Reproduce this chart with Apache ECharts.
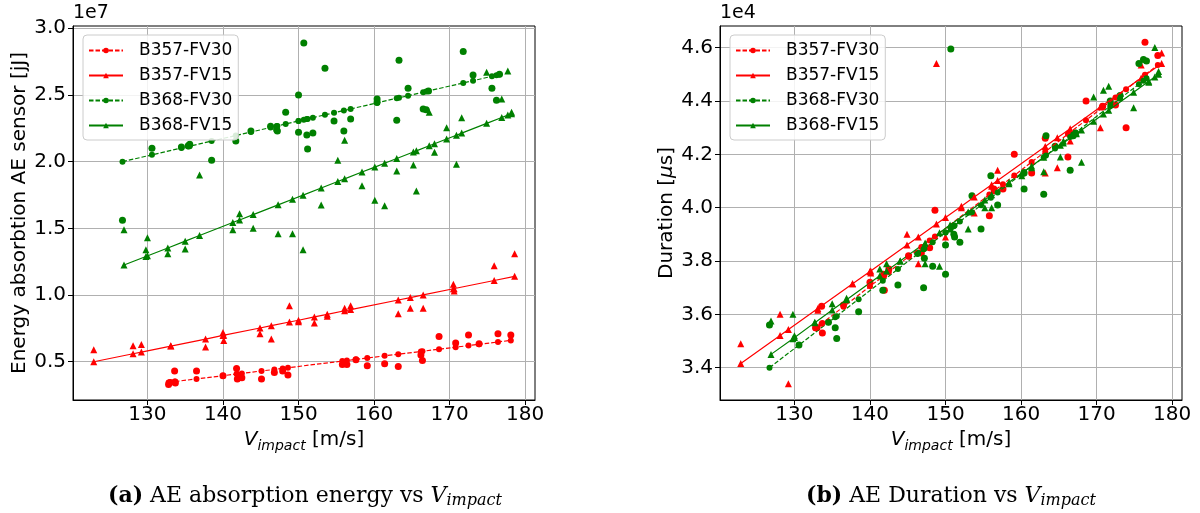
<!DOCTYPE html>
<html>
<head>
<meta charset="utf-8">
<script src="https://cdn.jsdelivr.net/npm/echarts@6/dist/echarts.min.js"></script>
<style>
  html, body { margin: 0; padding: 0; background: #ffffff; }
  #chart { width: 1200px; height: 513px; }
</style>
</head>
<body>
<div id="chart"></div>
<script>
// Impact speeds [m/s] of each specimen group, with the AE absorption energy (x1e7 jJ)
// and the AE duration (x1e4 µs) measured for every impact, plus the fitted trend value
// at each impact speed.
const xB357FV30 = [132.8, 133.0, 133.6, 133.7, 136.5, 140.0, 141.8, 141.9, 142.5, 145.1, 146.8, 147.9, 148.6, 155.8, 156.4, 157.6, 159.1, 161.4, 163.2, 166.2, 166.4, 168.6, 170.8, 172.5, 173.9, 176.4, 178.1];
const energyB357FV30 = [0.33, 0.345, 0.43, 0.34, 0.43, 0.395, 0.45, 0.37, 0.38, 0.37, 0.42, 0.43, 0.40, 0.48, 0.48, 0.515, 0.47, 0.485, 0.465, 0.55, 0.51, 0.69, 0.64, 0.70, 0.635, 0.71, 0.70];
const energyFitB357FV30 = [0.345, 0.346, 0.351, 0.351, 0.371, 0.395, 0.408, 0.408, 0.412, 0.431, 0.442, 0.450, 0.455, 0.505, 0.509, 0.517, 0.528, 0.544, 0.556, 0.577, 0.579, 0.594, 0.609, 0.621, 0.631, 0.648, 0.660];
const durationB357FV30 = [3.55, 3.55, 3.63, 3.53, 3.635, 3.72, 3.75, 3.69, 3.77, 3.82, 3.83, 3.85, 3.99, 3.97, 4.07, 4.07, 4.20, 4.13, 4.26, 4.19, 4.28, 4.40, 4.38, 4.385, 4.30, 4.62, 4.57];
const durationFitB357FV30 = [3.548, 3.552, 3.565, 3.568, 3.629, 3.705, 3.744, 3.746, 3.759, 3.816, 3.853, 3.877, 3.892, 4.049, 4.062, 4.088, 4.121, 4.171, 4.210, 4.276, 4.280, 4.328, 4.376, 4.413, 4.444, 4.498, 4.535];

const xB357FV15 = [122.9, 128.1, 129.2, 133.1, 137.7, 140.0, 140.1, 144.9, 146.4, 148.8, 150.0, 152.1, 153.8, 156.1, 156.9, 163.2, 164.8, 166.5, 170.5, 170.6, 175.9, 178.6];
const energyB357FV15 = [0.59, 0.62, 0.63, 0.62, 0.61, 0.72, 0.66, 0.71, 0.67, 0.92, 0.80, 0.79, 0.84, 0.90, 0.92, 0.86, 0.90, 0.90, 1.08, 1.03, 1.22, 1.31];
const energyFitB357FV15 = [0.500, 0.560, 0.572, 0.617, 0.670, 0.697, 0.698, 0.753, 0.770, 0.798, 0.811, 0.836, 0.855, 0.882, 0.891, 0.963, 0.981, 1.001, 1.047, 1.048, 1.109, 1.140];
const durationB357FV15 = [3.49, 3.60, 3.34, 3.615, 3.715, 3.76, 3.755, 3.90, 3.79, 4.54, 3.89, 4.00, 3.98, 4.08, 4.14, 4.13, 4.15, 4.25, 4.30, 4.38, 4.535, 4.58];
const durationFitB357FV15 = [3.416, 3.521, 3.543, 3.622, 3.715, 3.761, 3.763, 3.860, 3.890, 3.939, 3.963, 4.005, 4.040, 4.086, 4.102, 4.229, 4.262, 4.296, 4.377, 4.379, 4.486, 4.540];

const xB368FV30 = [126.7, 130.6, 134.5, 135.4, 135.6, 138.5, 141.7, 143.7, 146.3, 147.1, 147.2, 148.3, 150.0, 150.0, 150.7, 151.1, 151.2, 151.9, 153.5, 154.7, 156.0, 156.9, 160.4, 160.4, 163.0, 163.3, 164.5, 166.5, 166.9, 167.2, 171.8, 173.1, 175.6, 176.2, 176.6];
const energyB368FV30 = [1.56, 2.10, 2.11, 2.12, 2.13, 2.01, 2.155, 2.23, 2.265, 2.24, 2.23, 2.37, 2.50, 2.22, 2.89, 2.20, 2.095, 2.215, 2.70, 2.305, 2.23, 2.32, 2.47, 2.445, 2.31, 2.76, 2.55, 2.395, 2.39, 2.53, 2.825, 2.65, 2.55, 2.46, 2.655];
const energyFitB368FV30 = [2.000, 2.051, 2.102, 2.114, 2.116, 2.154, 2.196, 2.222, 2.256, 2.267, 2.268, 2.283, 2.305, 2.305, 2.314, 2.319, 2.320, 2.330, 2.351, 2.366, 2.383, 2.395, 2.441, 2.441, 2.475, 2.479, 2.494, 2.521, 2.526, 2.530, 2.590, 2.607, 2.640, 2.647, 2.653];
const durationB368FV30 = [3.56, 3.485, 3.57, 3.55, 3.51, 3.61, 3.69, 3.71, 3.83, 3.70, 3.81, 3.78, 3.86, 3.75, 4.595, 3.90, 3.89, 3.87, 4.045, 3.92, 4.12, 4.01, 4.07, 4.13, 4.05, 4.27, 4.23, 4.14, 4.27, 4.28, 4.40, 4.42, 4.54, 4.555, 4.55];
const durationFitB368FV30 = [3.400, 3.485, 3.570, 3.589, 3.593, 3.657, 3.726, 3.770, 3.826, 3.844, 3.846, 3.870, 3.907, 3.907, 3.922, 3.930, 3.933, 3.948, 3.983, 4.009, 4.037, 4.057, 4.133, 4.133, 4.189, 4.196, 4.222, 4.265, 4.274, 4.281, 4.381, 4.409, 4.463, 4.476, 4.485];

const xB368FV15 = [126.9, 129.8, 130.0, 132.7, 135.0, 136.9, 141.3, 142.2, 144.0, 147.3, 149.2, 150.6, 153.0, 155.2, 156.1, 158.4, 160.1, 161.4, 163.0, 165.2, 165.6, 167.3, 168.0, 169.6, 170.9, 171.6, 174.9, 176.9, 177.7, 178.2];
const energyB368FV15 = [1.49, 1.34, 1.43, 1.31, 1.345, 1.90, 1.49, 1.61, 1.50, 1.46, 1.46, 1.34, 1.675, 2.01, 2.16, 1.82, 1.71, 1.67, 1.93, 1.975, 1.78, 2.37, 2.07, 2.255, 1.98, 2.33, 2.67, 2.47, 2.68, 2.37];
const energyFitB368FV15 = [1.225, 1.289, 1.294, 1.353, 1.404, 1.446, 1.544, 1.563, 1.603, 1.676, 1.718, 1.749, 1.802, 1.851, 1.871, 1.922, 1.959, 1.988, 2.024, 2.072, 2.081, 2.119, 2.134, 2.170, 2.198, 2.214, 2.287, 2.331, 2.349, 2.360];
const durationB368FV15 = [3.575, 3.60, 3.52, 3.57, 3.64, 3.66, 3.77, 3.79, 3.80, 3.79, 3.78, 3.92, 3.92, 4.00, 4.00, 4.09, 4.12, 4.15, 4.135, 4.19, 4.25, 4.28, 4.17, 4.415, 4.44, 4.455, 4.375, 4.47, 4.60, 4.51];
const durationFitB368FV15 = [3.450, 3.509, 3.513, 3.569, 3.616, 3.655, 3.745, 3.763, 3.800, 3.868, 3.906, 3.935, 3.984, 4.029, 4.048, 4.095, 4.130, 4.156, 4.189, 4.234, 4.242, 4.277, 4.291, 4.324, 4.351, 4.365, 4.433, 4.474, 4.490, 4.500];

// Axis ticks
const speedTicks = [130, 140, 150, 160, 170, 180];
const energyTicks = [0.5, 1.0, 1.5, 2.0, 2.5, 3.0];
const durationTicks = [3.4, 3.6, 3.8, 4.0, 4.2, 4.4, 4.6];

const DASHED = [4.5, 2];
const groups = [
  { name: 'B357-FV30', x: xB357FV30, energy: energyB357FV30, energyFit: energyFitB357FV30, duration: durationB357FV30, durationFit: durationFitB357FV30, color: '#ff0000', symbol: 'circle', dash: DASHED },
  { name: 'B357-FV15', x: xB357FV15, energy: energyB357FV15, energyFit: energyFitB357FV15, duration: durationB357FV15, durationFit: durationFitB357FV15, color: '#ff0000', symbol: 'triangle', dash: 'solid' },
  { name: 'B368-FV30', x: xB368FV30, energy: energyB368FV30, energyFit: energyFitB368FV30, duration: durationB368FV30, durationFit: durationFitB368FV30, color: '#008000', symbol: 'circle', dash: DASHED },
  { name: 'B368-FV15', x: xB368FV15, energy: energyB368FV15, energyFit: energyFitB368FV15, duration: durationB368FV15, durationFit: durationFitB368FV15, color: '#008000', symbol: 'triangle', dash: 'solid' }
];

const FONT = 'DejaVu Sans';
const SERIF = 'DejaVu Serif';
const TICK_SIZE = 20;
const LABEL_SIZE = 20;

function fitSeries(g, key, idx) {
  return {
    type: 'line', name: g.name, xAxisIndex: idx, yAxisIndex: idx,
    data: g.x.map((x, i) => [x, g[key + 'Fit'][i]]),
    symbol: g.symbol, symbolSize: g.symbol === 'circle' ? 6 : 7, showSymbol: true,
    lineStyle: { color: g.color, width: 1.2, type: g.dash },
    itemStyle: { color: g.color },
    emphasis: { disabled: true }, z: 3
  };
}
function rawSeries(g, key, idx) {
  return {
    type: 'scatter', name: g.name + ' data', xAxisIndex: idx, yAxisIndex: idx,
    data: g.x.map((x, i) => [x, g[key][i]]),
    symbol: g.symbol, symbolSize: 7,
    itemStyle: { color: g.color, opacity: 1 },
    emphasis: { disabled: true }, z: 2
  };
}

const series = [];
groups.forEach(g => series.push(fitSeries(g, 'energy', 0)));
groups.forEach(g => series.push(fitSeries(g, 'duration', 1)));
groups.forEach(g => series.push(rawSeries(g, 'energy', 0)));
groups.forEach(g => series.push(rawSeries(g, 'duration', 1)));

const subRich = {
  v: { fontFamily: FONT, fontStyle: 'italic', fontSize: LABEL_SIZE, color: '#000' },
  s: { fontFamily: FONT, fontStyle: 'italic', fontSize: 14, color: '#000', padding: [12, 0, 0, 0] },
  t: { fontFamily: FONT, fontSize: LABEL_SIZE, color: '#000' },
  m: { fontFamily: FONT, fontStyle: 'italic', fontSize: LABEL_SIZE, color: '#000' }
};

function xAxis(idx) {
  return {
    type: 'value', gridIndex: idx, min: 120.15, max: 181.3,
    name: '{v|V}{s|impact}{t| [m/s]}', nameLocation: 'middle', nameGap: 27,
    nameTextStyle: { rich: subRich },
    axisLine: { show: true, onZero: false, lineStyle: { color: '#000', width: 1 } },
    axisTick: { show: true, customValues: speedTicks, length: 5, lineStyle: { color: '#000' } },
    axisLabel: { customValues: speedTicks, fontSize: TICK_SIZE, color: '#000', fontFamily: FONT, margin: 5,
      formatter: v => v.toFixed(0) },
    splitLine: { show: true, lineStyle: { color: '#b0b0b0', width: 1 } }
  };
}
function yAxis(idx, min, max, ticks, name, rich) {
  return {
    type: 'value', gridIndex: idx, min: min, max: max,
    name: name, nameLocation: 'middle', nameRotate: 90, nameGap: idx === 0 ? 42 : 41,
    nameTextStyle: { fontSize: LABEL_SIZE, color: '#000', fontFamily: FONT, rich: rich },
    axisLine: { show: true, onZero: false, lineStyle: { color: '#000', width: 1 } },
    axisTick: { show: true, customValues: ticks, length: 5, lineStyle: { color: '#000' } },
    axisLabel: { customValues: ticks, fontSize: TICK_SIZE, color: '#000', fontFamily: FONT, margin: 7,
      formatter: v => v.toFixed(1) },
    splitLine: { show: true, lineStyle: { color: '#b0b0b0', width: 1 } }
  };
}

function legend(left) {
  return {
    data: groups.map(g => g.name),
    left: left, top: 35, orient: 'vertical',
    itemWidth: 34, itemHeight: 7, itemGap: 8,
    padding: [7, 6, 6, 5],
    backgroundColor: 'rgba(255,255,255,0.85)',
    borderColor: '#cccccc', borderWidth: 1, borderRadius: 4,
    textStyle: { fontSize: 17, color: '#000', fontFamily: FONT, padding: [0, 0, 0, 11], lineHeight: 17 },
    selectedMode: false
  };
}

function caption(x, label, body) {
  return {
    type: 'text', x: x, y: 496, style: {
      text: '{b|' + label + '}{r| ' + body + '}{v|V}{s|impact}',
      align: 'center', verticalAlign: 'middle', textAlign: 'center', textVerticalAlign: 'middle',
      rich: {
        b: { fontFamily: SERIF, fontWeight: 'bold', fontSize: 22, fill: '#000' },
        r: { fontFamily: SERIF, fontSize: 22, fill: '#000' },
        v: { fontFamily: SERIF, fontStyle: 'italic', fontSize: 22, fill: '#000' },
        s: { fontFamily: SERIF, fontStyle: 'italic', fontSize: 16, fill: '#000', padding: [10, 0, 0, 0] }
      }
    }
  };
}

const chart = echarts.init(document.getElementById('chart'), null, { renderer: 'canvas' });
chart.setOption({
  animation: false,
  backgroundColor: '#ffffff',
  textStyle: { fontFamily: FONT },
  grid: [
    { left: 73, top: 26, width: 462, height: 374, show: true, borderColor: '#000', borderWidth: 1, backgroundColor: 'transparent' },
    { left: 720, top: 26, width: 462, height: 374, show: true, borderColor: '#000', borderWidth: 1, backgroundColor: 'transparent' }
  ],
  xAxis: [xAxis(0), xAxis(1)],
  yAxis: [
    yAxis(0, 0.213, 3.017, energyTicks, 'Energy absorbtion AE sensor [jJ]', {}),
    yAxis(1, 3.279, 4.681, durationTicks, '{t|Duration [}{m|μ}{t|s]}', subRich)
  ],
  legend: [legend(83), legend(730)],
  series: series,
  graphic: [
    { type: 'text', left: 73, top: 4, style: { text: '1e7', font: '19px "DejaVu Sans"', fill: '#000' } },
    { type: 'text', left: 720, top: 4, style: { text: '1e4', font: '19px "DejaVu Sans"', fill: '#000' } },
    caption(305, '(a)', 'AE absorption energy vs '),
    caption(951, '(b)', 'AE Duration vs ')
  ]
});
</script>
</body>
</html>
